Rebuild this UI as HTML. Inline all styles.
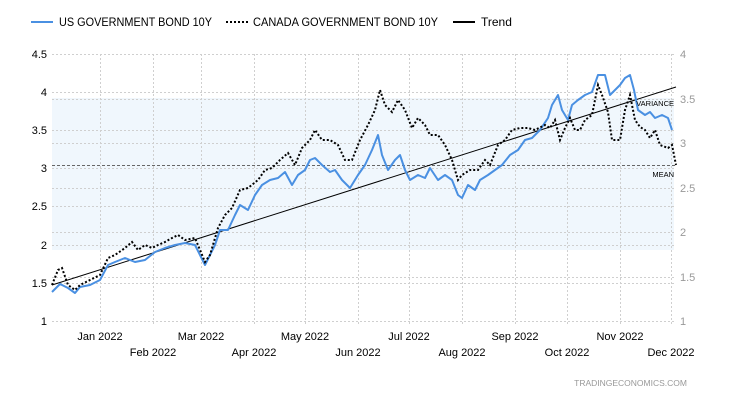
<!DOCTYPE html>
<html><head><meta charset="utf-8"><style>
body{margin:0;background:#fff;}
svg text{font-family:"Liberation Sans",sans-serif;}
</style></head><body>
<svg width="730" height="400" xmlns="http://www.w3.org/2000/svg">
<rect width="730" height="400" fill="#fff"/>
<rect x="52" y="98" width="622" height="152" fill="#f0f7fd"/>
<g stroke="#cfcfcf" stroke-width="1" stroke-dasharray="2,2">
<line x1="52" y1="54.5" x2="674" y2="54.5"/><line x1="52" y1="92.5" x2="674" y2="92.5"/><line x1="52" y1="130.5" x2="674" y2="130.5"/><line x1="52" y1="168.5" x2="674" y2="168.5"/><line x1="52" y1="206.5" x2="674" y2="206.5"/><line x1="52" y1="245.5" x2="674" y2="245.5"/><line x1="52" y1="283.5" x2="674" y2="283.5"/><line x1="52" y1="321.5" x2="674" y2="321.5"/>
<line x1="52" y1="99.5" x2="674" y2="99.5"/><line x1="52" y1="143.5" x2="674" y2="143.5"/><line x1="52" y1="188.5" x2="674" y2="188.5"/><line x1="52" y1="232.5" x2="674" y2="232.5"/><line x1="52" y1="277.5" x2="674" y2="277.5"/>
<line x1="100.5" y1="54" x2="100.5" y2="326"/><line x1="153.5" y1="54" x2="153.5" y2="326"/><line x1="201.5" y1="54" x2="201.5" y2="326"/><line x1="254.5" y1="54" x2="254.5" y2="326"/><line x1="305.5" y1="54" x2="305.5" y2="326"/><line x1="358.5" y1="54" x2="358.5" y2="326"/><line x1="409.5" y1="54" x2="409.5" y2="326"/><line x1="462.5" y1="54" x2="462.5" y2="326"/><line x1="515.5" y1="54" x2="515.5" y2="326"/><line x1="567.5" y1="54" x2="567.5" y2="326"/><line x1="620.5" y1="54" x2="620.5" y2="326"/><line x1="671.5" y1="54" x2="671.5" y2="326"/>
</g>
<line x1="52" y1="165.5" x2="676" y2="165.5" stroke="#666" stroke-dasharray="3,2"/>
<line x1="52" y1="285" x2="676" y2="87" stroke="#000" stroke-width="1"/>
<polyline fill="none" stroke="#4a90e2" stroke-width="2" stroke-linejoin="round" points="52,292 60,284 68,288 75,293 80,287 90,285 100,280 108,265 115,262 125,258 135,262 145,260 155,252 165,248 175,245 185,243 195,245 200,255 205,265 210,255 215,245 220,230 228,230 235,215 240,205 248,210 255,195 262,185 270,180 278,178 285,172 292,185 298,175 305,170 310,160 315,158 322,165 330,172 335,170 342,180 350,188 358,175 365,165 372,150 378,135 382,155 388,170 395,160 400,155 405,170 410,180 418,175 425,178 430,168 438,180 445,175 452,180 458,195 462,198 468,185 475,190 480,180 488,175 495,170 502,165 510,155 518,150 525,140 532,138 540,130 548,118 552,105 558,95 562,110 568,120 572,105 578,100 585,95 592,92 598,75 605,75 610,95 615,90 620,85 625,78 630,75 634,90 638,110 645,115 650,112 655,118 662,115 668,118 672,130"/>
<polyline fill="none" stroke="#000" stroke-width="2" stroke-dasharray="2,2" points="52,285 58,270 62,268 68,285 75,290 80,285 90,280 100,275 108,258 115,255 125,248 132,242 138,250 145,245 152,248 158,245 165,242 172,238 178,235 185,240 195,238 200,250 205,262 210,255 218,228 225,215 232,208 240,190 248,188 258,180 265,170 272,168 280,160 288,153 295,165 302,148 310,140 315,130 322,140 330,140 338,145 345,160 352,160 360,140 368,125 375,110 380,90 385,105 392,112 398,100 405,110 412,128 418,118 425,125 430,135 438,135 445,145 452,160 458,180 462,175 470,170 478,170 485,160 490,165 498,145 505,140 512,130 520,128 528,128 535,130 545,125 550,128 555,120 560,140 565,128 570,118 575,130 580,130 585,120 592,115 598,85 602,95 608,112 612,140 620,140 625,110 630,95 635,120 640,127 645,130 650,138 655,130 660,145 668,148 672,145 676,165"/>
<g font-size="11" fill="#000" text-anchor="end">
<text x="47" y="58">4.5</text><text x="47" y="96">4</text><text x="47" y="134">3.5</text><text x="47" y="172">3</text><text x="47" y="210">2.5</text><text x="47" y="249">2</text><text x="47" y="287">1.5</text><text x="47" y="325">1</text>
</g>
<g font-size="11" fill="#999">
<text x="680" y="58">4</text><text x="680" y="103">3.5</text><text x="680" y="147">3</text><text x="680" y="192">2.5</text><text x="680" y="236">2</text><text x="680" y="281">1.5</text><text x="680" y="325">1</text>
</g>
<g font-size="7.5" fill="#000" text-anchor="end"><text x="674" y="106">VARIANCE</text><text x="674" y="177">MEAN</text></g>
<g font-size="11" fill="#000" text-anchor="middle">
<text x="100" y="340">Jan 2022</text><text x="153" y="356">Feb 2022</text><text x="201" y="340">Mar 2022</text><text x="254" y="356">Apr 2022</text><text x="305" y="340">May 2022</text><text x="358" y="356">Jun 2022</text><text x="409" y="340">Jul 2022</text><text x="462" y="356">Aug 2022</text><text x="515" y="340">Sep 2022</text><text x="567" y="356">Oct 2022</text><text x="620" y="340">Nov 2022</text><text x="671" y="356">Dec 2022</text>
</g>
<text x="687" y="386" font-size="8.5" fill="#999" text-anchor="end">TRADINGECONOMICS.COM</text>
<line x1="31" y1="22" x2="53" y2="22" stroke="#4a90e2" stroke-width="2"/>
<text x="59" y="26" font-size="12" fill="#000" textLength="153" lengthAdjust="spacingAndGlyphs">US GOVERNMENT BOND 10Y</text>
<line x1="226" y1="22" x2="248" y2="22" stroke="#000" stroke-width="2" stroke-dasharray="2,2"/>
<text x="253" y="26" font-size="12" fill="#000" textLength="185" lengthAdjust="spacingAndGlyphs">CANADA GOVERNMENT BOND 10Y</text>
<line x1="453" y1="22" x2="475" y2="22" stroke="#000" stroke-width="2"/>
<text x="481" y="26" font-size="12" fill="#000">Trend</text>
</svg>
</body></html>
